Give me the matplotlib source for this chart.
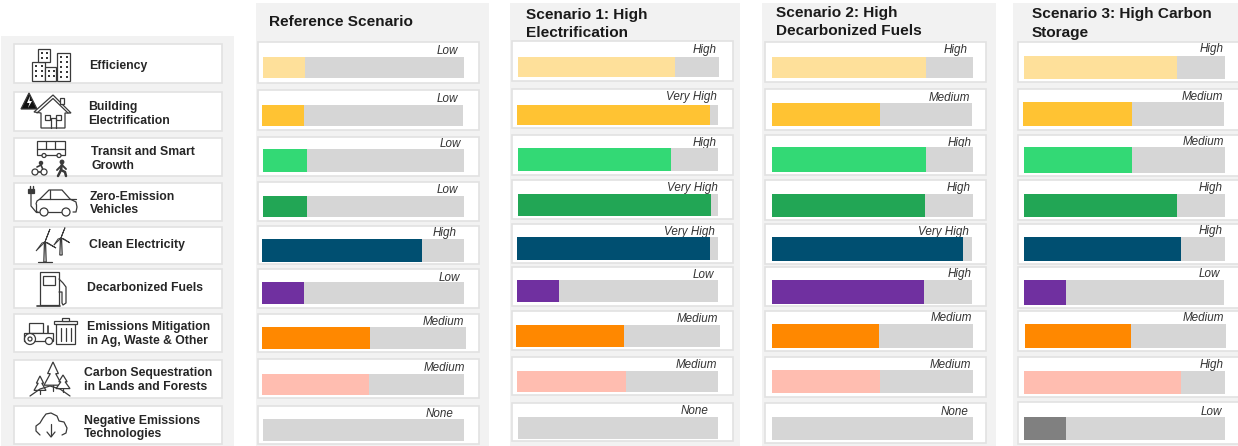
"""Scenario comparison of decarbonization strategies, drawn on a pixel grid."""

import matplotlib

matplotlib.use("Agg")
import matplotlib.pyplot as plt
from matplotlib.patches import Circle, Polygon, Rectangle

W, H = 1238, 446

STRATEGIES = [
    "Efficiency", "Building\nElectrification", "Transit and Smart\nGrowth",
    "Zero-Emission\nVehicles", "Clean Electricity", "Decarbonized Fuels",
    "Emissions Mitigation\nin Ag, Waste & Other",
    "Carbon Sequestration\nin Lands and Forests",
    "Negative Emissions\nTechnologies",
]
TITLES = [
    "Reference Scenario", "Scenario 1: High\nElectrification",
    "Scenario 2: High\nDecarbonized Fuels", "Scenario 3: High Carbon\nStorage",
]
# bar length as a share of its grey track
REF_VALUES = [0.21, 0.21, 0.22, 0.22, 0.79, 0.21, 0.53, 0.53, 0.0]
S1_VALUES = [0.78, 0.96, 0.765, 0.965, 0.96, 0.21, 0.53, 0.54, 0.0]
S2_VALUES = [0.766, 0.54, 0.766, 0.76, 0.955, 0.76, 0.53, 0.535, 0.0]
S3_VALUES = [0.76, 0.54, 0.535, 0.76, 0.78, 0.21, 0.525, 0.78, 0.21]
REF_LEVELS = ["Low", "Low", "Low", "Low", "High", "Low", "Medium", "Medium", "None"]
S1_LEVELS = ["High", "Very High", "High", "Very High", "Very High", "Low", "Medium", "Medium", "None"]
S2_LEVELS = ["High", "Medium", "High", "High", "Very High", "High", "Medium", "Medium", "None"]
S3_LEVELS = ["High", "Medium", "Medium", "High", "High", "Low", "Medium", "High", "Low"]

COLORS = ["#fee09a", "#ffc333", "#33d975", "#22a655", "#004f71",
          "#7030a0", "#ff8800", "#ffbdb0", "#808080"]
TRACK = "#d6d6d6"
PANEL = "#f2f2f2"
EDGE = "#e2e2e2"
INK = "#3a3a3a"

# layout in pixels, one row per strategy: box top/bottom, track top/bottom/left/right
LAYOUT = [
    {"panel": (256, 489), "box": (258, 479), "title": (269, [22]),
     "rows": [(42, 83, 57, 78, 263, 464), (90, 130, 105, 126, 262, 463),
              (137, 176, 149, 172, 263, 464), (182, 221, 196, 217, 263, 464),
              (226, 264, 239, 262, 262, 464), (269, 308, 282, 304, 262, 464),
              (314, 352, 327, 349, 262, 466), (359, 398, 374, 395, 262, 464),
              (406, 444, 419, 441, 263, 464)],
     "labels": [(458, 51), (458, 99), (461, 144), (458, 190), (457, 233),
                (460, 278), (464, 322), (465, 368), (454, 414)]},
    {"panel": (510, 740), "box": (512, 733), "title": (526, [15, 33]),
     "rows": [(41, 81, 57, 77, 518, 719), (89, 128, 105, 125, 517, 718),
              (135, 175, 148, 171, 518, 718), (180, 219, 194, 216, 518, 718),
              (224, 263, 237, 260, 517, 718), (267, 306, 280, 302, 517, 718),
              (311, 350, 325, 347, 516, 720), (357, 395, 371, 392, 517, 718),
              (403, 441, 417, 439, 518, 718)],
     "labels": [(717, 50), (717, 97), (717, 143), (718, 188), (715, 232),
                (714, 275), (718, 319), (717, 365), (709, 411)]},
    {"panel": (762, 996), "box": (765, 986), "title": (776, [13, 31]),
     "rows": [(42, 82, 57, 78, 772, 973), (89, 130, 103, 126, 772, 972),
              (135, 175, 147, 172, 772, 973), (180, 220, 194, 217, 772, 973),
              (224, 264, 237, 261, 772, 972), (267, 306, 280, 304, 772, 972),
              (311, 351, 324, 348, 772, 973), (357, 397, 370, 393, 772, 973),
              (403, 443, 417, 440, 772, 973)],
     "labels": [(968, 50), (970, 98), (972, 143), (971, 188), (969, 232),
                (972, 274), (972, 318), (971, 365), (969, 412)]},
    {"panel": (1013, 1238), "box": (1018, 1239), "title": (1032, [14, 33]),
     "rows": [(42, 82, 56, 79, 1024, 1225), (89, 130, 102, 126, 1023, 1224),
              (135, 176, 147, 173, 1024, 1225), (180, 220, 194, 217, 1024, 1225),
              (224, 264, 237, 261, 1024, 1225), (267, 308, 280, 305, 1024, 1224),
              (311, 351, 324, 348, 1025, 1226), (357, 397, 371, 394, 1024, 1225),
              (402, 444, 417, 440, 1024, 1225)],
     "labels": [(1224, 49), (1223, 97), (1224, 142), (1223, 188), (1223, 231),
                (1220, 274), (1224, 318), (1224, 365), (1222, 412)]},
]
LEFT_BOXES = [(44, 83), (92, 131), (138, 176), (183, 221), (227, 264),
              (269, 308), (314, 352), (360, 398), (406, 444)]
LEFT_TEXT = [(89, 66.5), (88, 114), (91, 159), (90, 203.5), (89, 245),
             (87, 288), (87, 334), (84, 380), (84, 427.5)]

plt.rcParams["font.family"] = ["Liberation Sans", "DejaVu Sans"]

fig = plt.figure(figsize=(W / 100, H / 100), dpi=100)
ax = fig.add_axes([0, 0, 1, 1])
ax.set_xlim(0, W)
ax.set_ylim(H, 0)
ax.axis("off")


def box(x0, x1, y0, y1, fc="white", ec=EDGE, lw=1.2, z=1):
    ax.add_patch(Rectangle((x0, y0), x1 - x0, y1 - y0, fc=fc, ec=ec, lw=lw, zorder=z))


def line(xs, ys, lw=0.9, color=INK):
    ax.plot(xs, ys, color=color, lw=lw, zorder=3, solid_capstyle="round")


def rect(x, y, w, h, lw=0.9, fc="white"):
    ax.add_patch(Rectangle((x, y), w, h, fc=fc, ec=INK, lw=lw, zorder=3))


def circ(x, y, r, lw=0.9, fc="white"):
    ax.add_patch(Circle((x, y), r, fc=fc, ec=INK, lw=lw, zorder=4))


def poly(pts, fc="white", lw=0.9, ec=INK):
    ax.add_patch(Polygon(pts, closed=True, fc=fc, ec=ec, lw=lw, zorder=3))


def draw_buildings():
    for x, y, w, nx, ny in [(32, 62, 13, 2, 3), (38, 49, 12, 2, 2), (45, 67, 11, 2, 2), (57, 53, 13, 2, 5)]:
        rect(x, y, w, 80.5 - y if x != 38 else 13)
        for i in range(nx):
            for j in range(ny):
                rect(x + 2.5 + i * (w / 2 - 0.5), y + 3 + j * 5, 2, 2, lw=0, fc=INK)


def draw_house():
    poly([(21, 109), (29, 93), (37, 109)], fc="#111111")
    poly([(30, 96), (27, 103), (29.5, 103), (28, 108), (32, 101), (29.5, 101)], fc="white", lw=0)
    poly([(34, 112), (53, 95), (71, 113), (65, 113), (65, 128), (41, 128), (41, 113)])
    line([37, 53, 68], [113, 98.5, 113])
    rect(60, 98, 4, 6)
    rect(45, 115, 5, 5)
    rect(56, 115, 5, 5)
    line([50.5, 50.5, 55.5, 55.5], [128, 118, 118, 128])


def draw_transit():
    rect(37, 141, 28, 14)
    line([37, 65], [149, 149])
    line([46, 46], [141, 149])
    line([55, 55], [141, 149])
    circ(44, 155.5, 2)
    circ(59, 155.5, 2)
    # bike and rider
    circ(35, 172, 3)
    circ(44, 172, 3)
    line([35, 39, 44, 41, 37], [172, 172, 172, 165, 167], lw=1.2)
    circ(41, 163, 1.6, fc=INK)
    # walker
    circ(62, 162, 1.8, fc=INK)
    line([62, 61, 58], [164, 170, 176], lw=1.8)
    line([61, 65, 66], [170, 172, 176], lw=1.8)
    line([57, 62, 66], [170, 165, 169], lw=1.4)


def draw_car():
    line([29.5, 29.5], [186, 189], lw=1)
    line([32.5, 32.5], [186, 189], lw=1)
    rect(28, 189, 6, 4, fc=INK)
    line([31, 31, 36, 38], [193, 206, 212, 212])
    line([36, 37, 40, 49, 62, 70, 76, 77, 76, 73], [204, 201, 199, 190, 190, 199, 202, 207, 212, 212])
    line([36, 36, 39], [204, 212, 212])
    line([39, 76], [199, 199])
    line([50, 50], [190, 199])
    line([47, 61], [212, 212])
    circ(44, 212, 4)
    circ(66, 212, 4)


def draw_turbines():
    for x, hub, base, s in [(45, 242, 262, 1.0), (61, 238, 255, 0.8)]:
        poly([(x - 1.2, base), (x - 0.5, hub), (x + 0.5, hub), (x + 1.2, base)])
        poly([(x, hub), (x + 1, hub - 3), (x + 5 * s, hub - 13 * s)], lw=0.7)
        poly([(x, hub), (x - 3, hub + 1), (x - 9 * s, hub + 9 * s)], lw=0.7)
        poly([(x, hub), (x + 3, hub + 1), (x + 11 * s, hub + 6 * s)], lw=0.7)
    line([38, 52], [262, 262])


def draw_pump():
    rect(40, 272, 19, 33)
    rect(43, 276, 12, 9)
    line([37, 60], [305.5, 305.5], lw=1.2)
    line([59, 63, 66, 66, 63, 62, 62, 59], [279, 283, 287, 303, 305, 303, 292, 292])


def draw_tractor():
    rect(29, 323, 14, 10)
    rect(24, 333, 29, 8)
    circ(30, 339, 5.5)
    circ(30, 339, 2)
    circ(49, 341, 3.5)
    line([48, 48], [326, 333], lw=1.2)
    rect(56, 324, 19, 20)
    rect(54, 321, 23, 3)
    rect(62, 318, 7, 3)
    for x in (60.5, 65.5, 70.5):
        line([x, x], [328, 341])


def draw_trees():
    for x, top, base, half in [(53, 362, 391, 9), (40, 376, 394, 6), (63, 375, 392, 7)]:
        poly([(x, top), (x - half * 0.6, top + (base - top) * 0.4), (x - half * 0.3, top + (base - top) * 0.4),
              (x - half, top + (base - top) * 0.8), (x + half, top + (base - top) * 0.8),
              (x + half * 0.3, top + (base - top) * 0.4), (x + half * 0.6, top + (base - top) * 0.4)])
        line([x, x], [top + (base - top) * 0.8, base])
    line([30, 40, 50, 60, 70], [396, 389, 386, 389, 396])


def draw_cloud():
    xs = [40, 36, 36, 40, 43, 46, 51, 57, 59, 64, 67, 66, 62]
    ys = [435, 431, 426, 423, 418, 414, 413, 416, 421, 422, 428, 433, 435]
    line(xs, ys)
    line([51, 51], [424, 436])
    line([47, 51, 55], [432, 437, 432])


ICONS = [draw_buildings, draw_house, draw_transit, draw_car, draw_turbines,
         draw_pump, draw_tractor, draw_trees, draw_cloud]

# left legend column
box(1, 234, 36, H + 2, fc=PANEL, ec="none", lw=0, z=0)
for (y0, y1), label, (tx, ty), icon in zip(LEFT_BOXES, STRATEGIES, LEFT_TEXT, ICONS):
    box(14, 222, y0, y1)
    icon()
    ax.text(tx, ty, label, fontsize=8.8, fontweight="bold", color="#262626",
            va="center", ha="left", linespacing=1.22, zorder=5)

# scenario columns
ALL_VALUES = [REF_VALUES, S1_VALUES, S2_VALUES, S3_VALUES]
ALL_LEVELS = [REF_LEVELS, S1_LEVELS, S2_LEVELS, S3_LEVELS]
for col, title, values, levels in zip(LAYOUT, TITLES, ALL_VALUES, ALL_LEVELS):
    px0, px1 = col["panel"]
    box(px0, px1, 3, H + 2, fc=PANEL, ec="none", lw=0, z=0)
    tx, tys = col["title"]
    for ty, part in zip(tys, title.split("\n")):
        ax.text(tx, ty, part, fontsize=11.1, fontweight="bold", color="#1a1a1a",
                va="center", ha="left", zorder=5)
    bx0, bx1 = col["box"]
    for i, (top, bot, t0, t1, x0, x1) in enumerate(col["rows"]):
        box(bx0, bx1, top, bot)
        cell = fig.add_axes([x0 / W, 1 - t1 / H, (x1 - x0) / W, (t1 - t0) / H])
        cell.set_xlim(0, 1)
        cell.set_ylim(-0.5, 0.5)
        cell.axis("off")
        cell.barh([0], [1.0], height=1.0, color=TRACK)
        cell.barh([0], [values[i]], height=1.0, color=COLORS[i])
        lx, ly = col["labels"][i]
        ax.text(lx, ly, levels[i], fontsize=8.4, fontstyle="italic", color="#333333",
                va="center", ha="right", zorder=5)

fig.savefig("out.png", dpi=100)
